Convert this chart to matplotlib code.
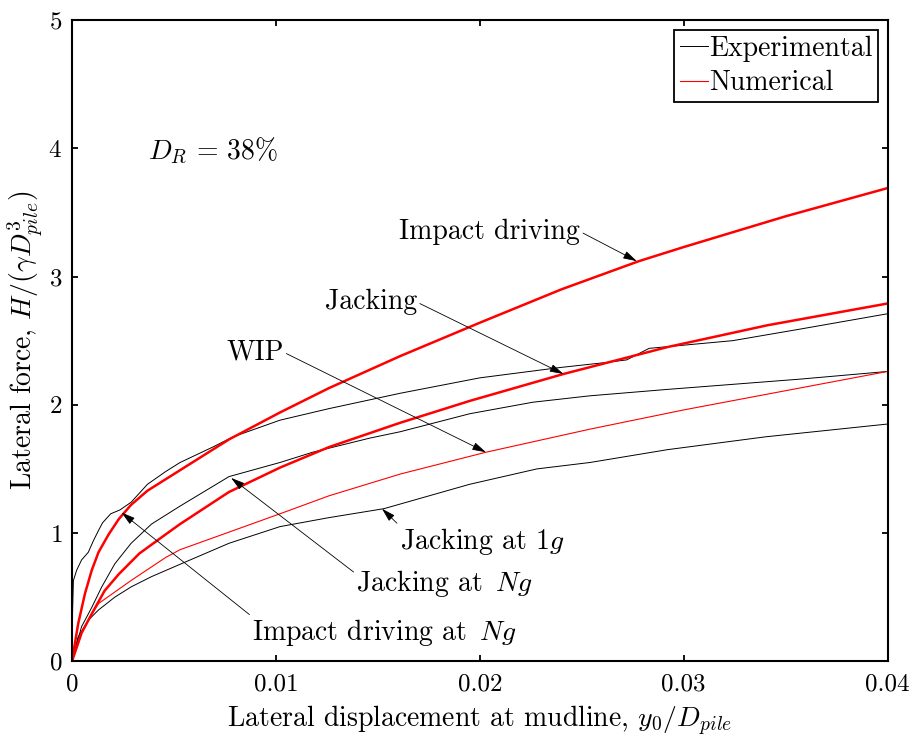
import matplotlib
matplotlib.use("Agg")
import matplotlib.pyplot as plt

plt.rcParams['font.family'] = 'serif'
plt.rcParams['font.serif'] = ['cmr10']
plt.rcParams['mathtext.fontset'] = 'cm'
plt.rcParams['axes.unicode_minus'] = False
plt.rcParams['axes.formatter.use_mathtext'] = True

# experimental curves (thin black)
exp_impact_x = [0, 0.00003, 0.00007, 0.00023, 0.00047, 0.0008, 0.00105, 0.0013, 0.0015, 0.0019,
                0.00235, 0.0029, 0.0037, 0.0046, 0.0053, 0.0069, 0.0079, 0.0102, 0.0126, 0.0161,
                0.02, 0.0239, 0.0262, 0.0272, 0.0283, 0.0324, 0.0357, 0.04]
exp_impact_y = [0, 0.40, 0.63, 0.71, 0.79, 0.85, 0.94, 1.02, 1.08, 1.15,
                1.18, 1.24, 1.38, 1.48, 1.55, 1.67, 1.75, 1.88, 1.97, 2.09,
                2.21, 2.29, 2.33, 2.35, 2.44, 2.50, 2.59, 2.71]

exp_jack_ng_x = [0, 0.00047, 0.00097, 0.00146, 0.0021, 0.0029, 0.0039, 0.0053, 0.0077, 0.0102,
                 0.0118, 0.0146, 0.0161, 0.0195, 0.0226, 0.0254, 0.0292, 0.0357, 0.04]
exp_jack_ng_y = [0, 0.27, 0.42, 0.58, 0.76, 0.92, 1.07, 1.21, 1.44, 1.55,
                 1.63, 1.74, 1.79, 1.93, 2.02, 2.07, 2.12, 2.20, 2.26]

exp_jack_1g_x = [0, 0.0003, 0.0008, 0.0013, 0.0021, 0.0029, 0.0039, 0.0055, 0.0077, 0.0102,
                 0.0126, 0.0153, 0.0195, 0.0228, 0.0254, 0.0292, 0.034, 0.04]
exp_jack_1g_y = [0, 0.19, 0.32, 0.40, 0.50, 0.58, 0.66, 0.77, 0.92, 1.05,
                 1.12, 1.19, 1.38, 1.50, 1.55, 1.65, 1.75, 1.85]

# numerical curves (red)
num_impact_x = [0, 0.0003, 0.00064, 0.00097, 0.0013, 0.0018, 0.0023, 0.0029, 0.0037, 0.0046,
                0.0053, 0.0077, 0.0102, 0.0126, 0.0161, 0.02, 0.024, 0.0278, 0.03, 0.035, 0.04]
num_impact_y = [0, 0.29, 0.53, 0.71, 0.85, 0.99, 1.11, 1.22, 1.33, 1.42,
                1.49, 1.73, 1.94, 2.13, 2.38, 2.64, 2.90, 3.12, 3.23, 3.47, 3.69]

num_jack_x = [0, 0.00047, 0.00097, 0.0016, 0.0023, 0.0033, 0.0046, 0.0053, 0.0077, 0.0102,
              0.0126, 0.0161, 0.0195, 0.0241, 0.0292, 0.0341, 0.04]
num_jack_y = [0, 0.22, 0.37, 0.55, 0.68, 0.84, 0.99, 1.07, 1.32, 1.51,
              1.67, 1.86, 2.03, 2.24, 2.45, 2.62, 2.79]

num_wip_x = [0, 0.00047, 0.00097, 0.0013, 0.0029, 0.0046, 0.0053, 0.0102, 0.0126, 0.0161,
             0.0203, 0.0254, 0.03, 0.035, 0.04]
num_wip_y = [0, 0.22, 0.37, 0.45, 0.63, 0.81, 0.87, 1.15, 1.29, 1.46,
             1.63, 1.81, 1.96, 2.11, 2.26]

xticks = [0, 0.01, 0.02, 0.03, 0.04]
xtick_labels = ['0', '0.01', '0.02', '0.03', '0.04']
yticks = [0, 1, 2, 3, 4, 5]

fig = plt.figure(figsize=(9.17, 7.43), dpi=100)
ax = fig.add_axes([0.0785, 0.110, 0.8895, 0.863])

ax.plot(exp_impact_x, exp_impact_y, color='k', lw=0.7, label='Experimental')
ax.plot(exp_jack_ng_x, exp_jack_ng_y, color='k', lw=0.7)
ax.plot(exp_jack_1g_x, exp_jack_1g_y, color='k', lw=0.7)
ax.plot(num_impact_x, num_impact_y, color='#ff0000', lw=1.8)
ax.plot(num_jack_x, num_jack_y, color='#ff0000', lw=1.8)
ax.plot(num_wip_x, num_wip_y, color='#ff0000', lw=0.8, label='Numerical')

ax.set_xlim(0, 0.04)
ax.set_ylim(0, 5)
ax.set_xticks(xticks)
ax.set_xticklabels(xtick_labels)
ax.set_yticks(yticks)
ax.tick_params(direction='in', top=True, right=True, length=4, width=1.3, labelsize=18)
ax.tick_params(axis='x', pad=9)
ax.tick_params(axis='y', pad=7)
for s in ax.spines.values():
    s.set_linewidth(1.5)

ax.set_xlabel(r'Lateral displacement at mudline, $y_0/D_{pile}$', fontsize=20, labelpad=6)
ax.set_ylabel(r'Lateral force, $H/(\gamma D_{pile}^3)$', fontsize=20, labelpad=2)

leg = ax.legend(loc='upper right', fontsize=20, fancybox=False, framealpha=1,
                edgecolor='k', handlelength=1.0, handletextpad=0.05, borderpad=0.2,
                labelspacing=0.3, borderaxespad=0.35)
leg.get_frame().set_linewidth(1.3)

ax.text(0.00691, 3.98, r'$D_R\,=\,38\%$', fontsize=20, ha='center', va='center')

arrow = dict(arrowstyle='-|>,head_length=0.7,head_width=0.2', color='k', lw=0.6,
             mutation_scale=12, shrinkA=0, shrinkB=0)

def label(txt, tip, pos, rel):
    ax.annotate(txt, xy=tip, xytext=pos, fontsize=20, ha='center', va='center',
                arrowprops=dict(arrow, relpos=rel))

label('Impact driving', (0.0277, 3.12), (0.02049, 3.35), (1.0, 0.5))
label('Jacking', (0.0241, 2.24), (0.01466, 2.80), (1.0, 0.5))
label('WIP', (0.0203, 1.63), (0.00897, 2.41), (1.0, 0.5))
label(r'Jacking at $\mathit{1g}$', (0.0152, 1.19), (0.0201, 0.935), (0.0, 1.0))
label(r'Jacking at $\,Ng$', (0.0078, 1.43), (0.01828, 0.607), (0.0, 0.8))
label(r'Impact driving at $\,Ng$', (0.00243, 1.16), (0.01534, 0.226), (0.0, 1.0))

fig.savefig('out.png', dpi=100)
